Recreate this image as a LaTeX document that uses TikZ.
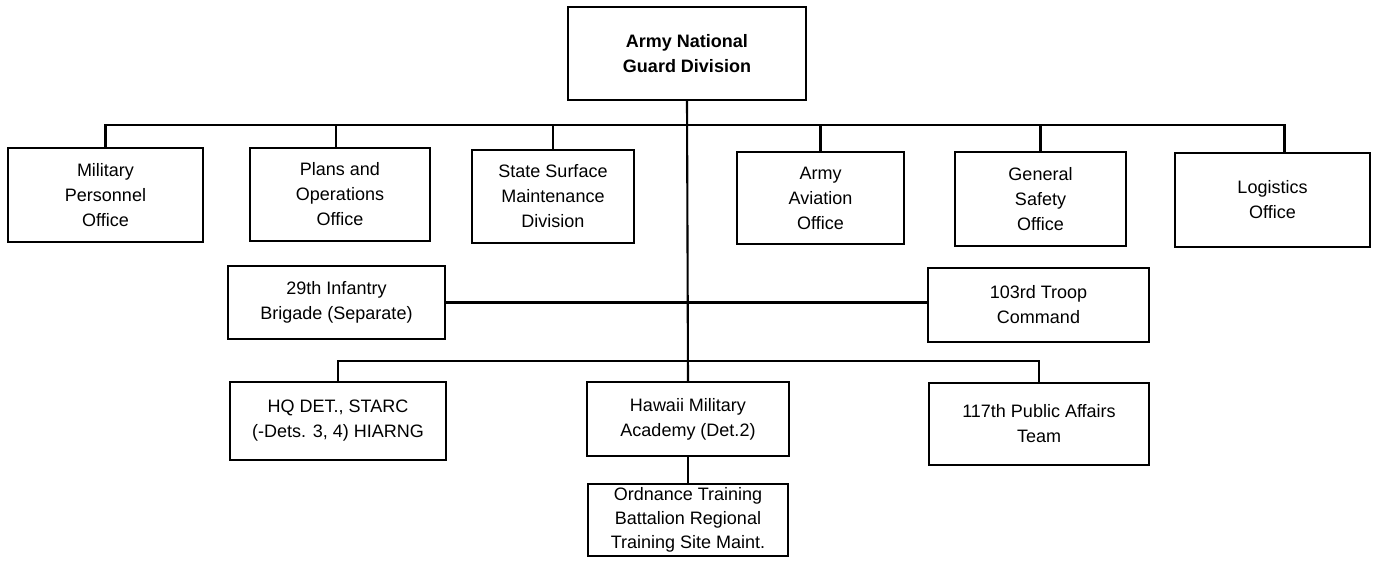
\documentclass[tikz,border=0pt]{standalone}
\usepackage{fontspec}
\setmainfont{Liberation Sans}
\begin{document}
\begin{tikzpicture}[x=1pt,y=-1pt,
  box/.style={draw=black, line width=2.4pt, rectangle, inner sep=0pt, align=center,
              font=\fontsize{18}{25}\selectfont, text=black},
  link/.style={draw=black, line width=2.1pt}]
\useasboundingbox[fill=white] (0,0) rectangle (1377,568);
% top
\node[box, minimum width=238, minimum height=93, font=\bfseries\fontsize{18}{25}\selectfont] (top) at (687,53.5) {Army National\\Guard Division};
% row 1
\node[box, minimum width=195, minimum height=94] (mpo) at (105.5,195) {Military\\Personnel\\Office};
\node[box, minimum width=180, minimum height=93] (plans) at (340,194.5) {Plans and\\Operations\\Office};
\node[box, minimum width=162, minimum height=93] (state) at (553,196.5) {State Surface\\Maintenance\\Division};
\node[box, minimum width=167, minimum height=92] (avi) at (820.5,198) {Army\\Aviation\\Office};
\node[box, minimum width=171, minimum height=94] (safety) at (1040.5,199) {General\\Safety\\Office};
\node[box, minimum width=195, minimum height=94] (logi) at (1272.5,200) {Logistics\\Office};
% row 2
\node[box, minimum width=217, minimum height=73] (inf) at (336.5,302.5) {29th Infantry\\Brigade (Separate)};
\node[box, minimum width=221, minimum height=74] (troop) at (1038.5,305) {103rd Troop\\Command};
% row 3
\node[box, minimum width=216, minimum height=78] (hq) at (338,421) {HQ DET., STARC\\(-Dets. 3, 4) HIARNG};
\node[box, minimum width=202, minimum height=74] (hma) at (688,419) {Hawaii Military\\Academy (Det.2)};
\node[box, minimum width=220, minimum height=82] (pa) at (1039,424) {117th Public Affairs\\Team};
% row 4
\node[box, minimum width=200, minimum height=72, font=\fontsize{18}{24}\selectfont] (ord) at (688,520) {Ordnance Training\\Battalion Regional\\Training Site Maint.};
% connectors
\draw[link] (top.south) -- (hma.north);
\draw[link] (mpo.north) -- (mpo.north |- 0,125) -| ([xshift=12pt]logi.north);
\draw[link] ([xshift=-4pt]plans.north) -- ([xshift=-4pt]plans.north |- 0,125);
\draw[link] (state.north) -- (state.north |- 0,125);
\draw[link] (avi.north) -- (avi.north |- 0,125);
\draw[link] (safety.north) -- (safety.north |- 0,125);
\draw[link] (inf.east) -- (inf.east -| troop.west);
\draw[link] (hq.north) -- ++(0,-20) -| (pa.north);
\draw[link] (hma.south) -- (ord.north);
\end{tikzpicture}
\end{document}
